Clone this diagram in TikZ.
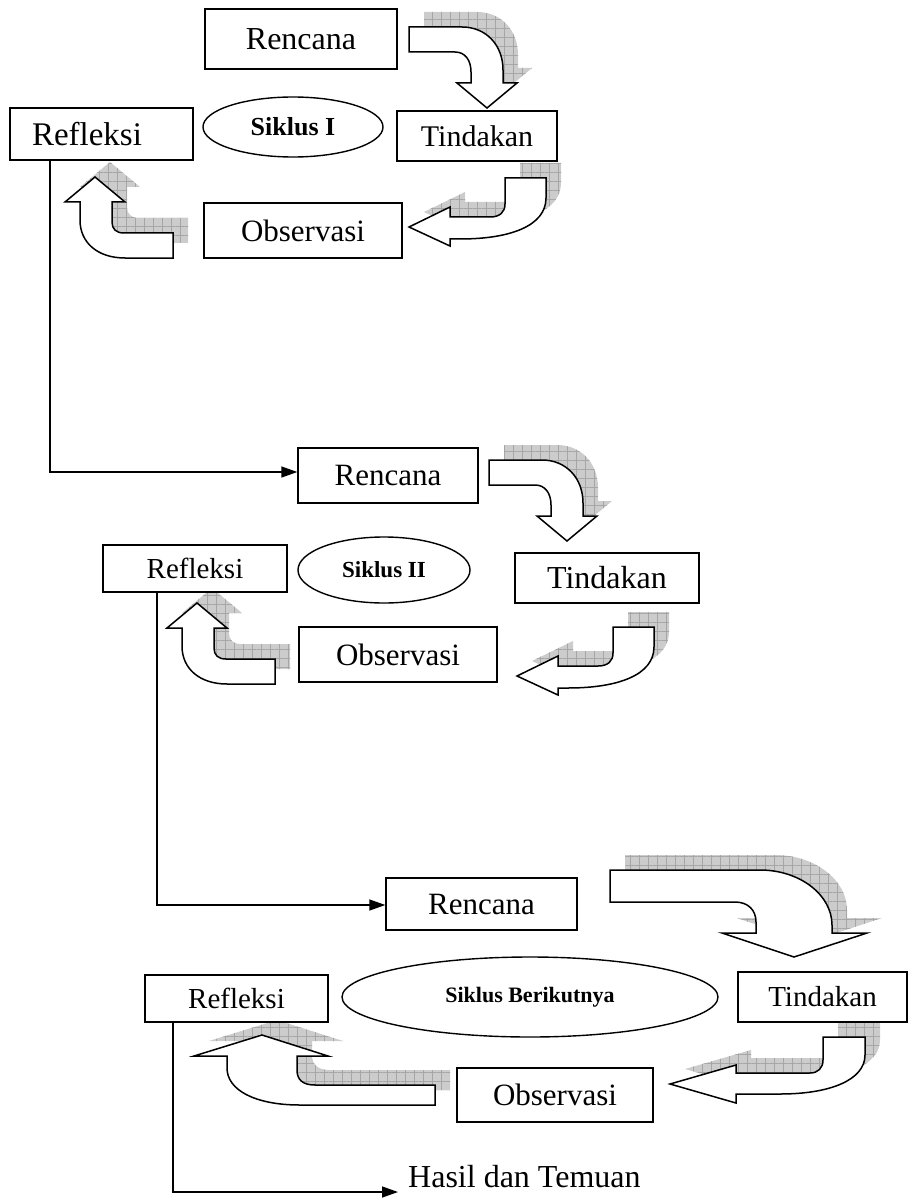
\documentclass[tikz,border=0pt]{standalone}
\usepackage{fontspec}
\setmainfont{Liberation Serif}
\usetikzlibrary{shapes.geometric,arrows.meta,patterns.meta}

\tikzset{
  kotak/.style={draw, fill=white, line width=1.4pt, inner sep=0pt, font=\fontsize{31}{31}\selectfont},
  siklus/.style={draw, fill=white, ellipse, line width=1.4pt, inner sep=0pt, font=\bfseries\fontsize{24}{24}\selectfont},
  garis/.style={line width=1.4pt, -{Triangle[length=16pt,width=11pt]}},
  blok/.style={draw, fill=white, line width=1.5pt, line join=miter},
  bayang/.style={fill=gray!40, postaction={pattern={Hatch[distance=9pt,line width=0.4pt]}, pattern color=gray!70}}
}

% panah belok dengan bayangan
\newcommand{\panah}[1]{%
  \fill[bayang,shift={(15,-15)}] #1;
  \draw[blok] #1;}
\newcommand{\belokA}{(409,27) -- (462,27) .. controls (486,27) and (503,45) .. (503,70) -- (503,83) -- (517,83) -- (487,108) -- (457,83) -- (471,83) -- (471,72) .. controls (471,60) and (465,52) .. (455,52) -- (409,52) -- cycle}
\newcommand{\belokB}{(505,178) -- (546,178) -- (546,198) .. controls (546,226) and (510,239) .. (460,239) -- (450,239) -- (450,246) -- (409,227) -- (450,207) -- (450,217) -- (490,217) .. controls (500,217) and (505,212) .. (505,204) -- cycle}
\newcommand{\belokC}{(173,233) -- (173,258) -- (125,258) .. controls (98,258) and (80,243) .. (80,220) -- (80,202) -- (65,202) -- (95,177) -- (125,202) -- (112,202) -- (112,222) .. controls (112,229) and (116,233) .. (124,233) -- cycle}

\begin{document}
\begin{tikzpicture}[x=1pt,y=-1pt]
    \useasboundingbox (0,0) rectangle (909,1198);

    % --- Siklus I ---
    \panah{\belokA}
    \panah{\belokB}
    \panah{\belokC}
    \node[kotak, minimum width=192pt, minimum height=60pt, font=\fontsize{32}{32}\selectfont] (ren1) at (301,39) {Rencana};
    \node[kotak, minimum width=183pt, minimum height=52pt, text width=139pt, align=left, font=\fontsize{33}{33}\selectfont] (ref1) at (101.5,134) {Refleksi};
    \node[siklus, minimum width=180pt, minimum height=60pt, font=\bfseries\fontsize{26}{26}\selectfont] (sik1) at (293,127) {Siklus I};
    \node[kotak, minimum width=160pt, minimum height=50pt, font=\fontsize{30}{30}\selectfont] (tin1) at (477,136) {Tindakan};
    \node[kotak, minimum width=198pt, minimum height=55pt] (obs1) at (303,230.5) {Observasi};

    % --- Siklus II ---
    \begin{scope}[shift={(80,433)}] \panah{\belokA} \end{scope}
    \begin{scope}[shift={(108,449)}] \panah{\belokB} \end{scope}
    \begin{scope}[shift={(102,426)}] \panah{\belokC} \end{scope}
    \node[kotak, minimum width=180pt, minimum height=55pt] (ren2) at (388,475.5) {Rencana};
    \node[kotak, minimum width=184pt, minimum height=47pt, font=\fontsize{29}{29}\selectfont] (ref2) at (195,568.5) {Refleksi};
    \node[siklus, minimum width=172pt, minimum height=66pt, font=\bfseries\fontsize{23}{23}\selectfont] (sik2) at (384,570) {Siklus II};
    \node[kotak, minimum width=184pt, minimum height=50pt, font=\fontsize{32}{32}\selectfont] (tin2) at (607,578) {Tindakan};
    \node[kotak, minimum width=198pt, minimum height=55pt] (obs2) at (398,654.5) {Observasi};

    % --- Siklus Berikutnya ---
    \panah{(610,870) -- (760,870) .. controls (800,870) and (832,895) .. (832,925) -- (832,933) -- (867,933) -- (794,957) -- (722,933) -- (756,933) -- (756,922) .. controls (756,910) and (748,902) .. (735,902) -- (610,902) -- cycle}
    \panah{(823,1037) -- (865,1037) -- (865,1055) .. controls (865,1080) and (830,1094) .. (780,1094) -- (736,1094) -- (736,1103) -- (670,1084) -- (736,1065) -- (736,1073) -- (810,1073) .. controls (818,1073) and (823,1068) .. (823,1060) -- cycle}
    \panah{(435,1085) -- (435,1105) -- (300,1105) .. controls (255,1105) and (227,1090) .. (227,1068) -- (227,1056) -- (194,1056) -- (262,1035) -- (328,1056) -- (297,1056) -- (297,1070) .. controls (297,1080) and (303,1085) .. (315,1085) -- cycle}
    \node[kotak, minimum width=191pt, minimum height=52pt] (ren3) at (481.5,904) {Rencana};
    \node[kotak, minimum width=183pt, minimum height=47pt, font=\fontsize{29}{29}\selectfont] (ref3) at (236.5,998.5) {Refleksi};
    \node[siklus, minimum width=376pt, minimum height=80pt, font=\bfseries\fontsize{22}{22}\selectfont] (sik3) at (530,997) {Siklus Berikutnya};
    \node[kotak, minimum width=169pt, minimum height=50pt, font=\fontsize{29}{29}\selectfont] (tin3) at (822.5,997) {Tindakan};
    \node[kotak, minimum width=196pt, minimum height=54pt] (obs3) at (555,1095) {Observasi};
    \node[anchor=base west, inner sep=0pt, font=\fontsize{32}{32}\selectfont] (hasil) at (408,1187) {Hasil dan Temuan};

    % --- Garis penghubung antar siklus ---
    \coordinate (k1) at (50,472);
    \coordinate (k2) at (157,905);
    \coordinate (k3) at (173,1192);
    \draw[garis] (ref1.south -| k1) -- (k1) -- (k1 -| ren2.west);
    \draw[garis] (ref2.south -| k2) -- (k2) -- (k2 -| ren3.west);
    \draw[garis, shorten >=10pt] (ref3.south -| k3) -- (k3) -- (k3 -| hasil.west);

\end{tikzpicture}
\end{document}
